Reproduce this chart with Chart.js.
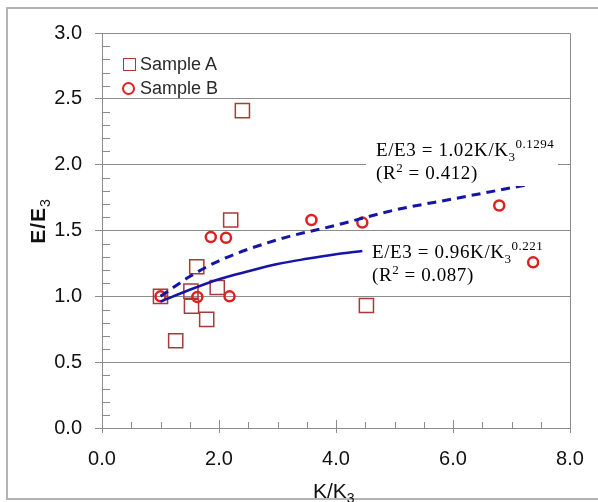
<!DOCTYPE html>
<html>
<head>
<meta charset="utf-8">
<script src="https://cdn.jsdelivr.net/npm/chart.js@4/dist/chart.umd.min.js"></script>
<style>
  html, body { margin: 0; padding: 0; background: #fff; }
  #wrap { position: relative; width: 598px; height: 502px; overflow: hidden; background: #fff; }
  #frame { position: absolute; left: 6px; top: 7px; width: 600px; height: 489px; border: 2px solid #b4b4b4; box-sizing: content-box; pointer-events: none; }
  canvas { position: absolute; left: 0; top: 0; }
  .txt { position: absolute; white-space: nowrap; }
  .eq { font-family: "Liberation Serif", "Times New Roman", serif; font-size: 19px; line-height: 19px; color: #000; letter-spacing: 0.6px; }
  .eq .sm { font-size: 13px; position: relative; letter-spacing: 0.5px; }
  .lg { font-family: "Liberation Sans", Arial, sans-serif; font-size: 18px; line-height: 18px; color: #2a2a2a; }
  .ttl { font-family: "Liberation Sans", Arial, sans-serif; font-size: 21px; line-height: 21px; color: #111; }
  .ttl .sb { font-size: 14px; position: relative; top: 5px; }
</style>
</head>
<body>
<div id="wrap">
  <canvas id="c" width="598" height="502"></canvas>
  <div id="frame"></div>
  <!-- legend -->
  <div style="position:absolute;left:123px;top:58px;width:13px;height:13px;border:1.5px solid #a83a3a;box-sizing:border-box;"></div>
  <div class="txt lg" style="left:140px;top:55px;">Sample A</div>
  <div style="position:absolute;left:121.5px;top:81.5px;width:13px;height:13px;border:2.5px solid #dd2020;border-radius:50%;box-sizing:border-box;"></div>
  <div class="txt lg" style="left:140px;top:79px;">Sample B</div>
  <!-- equation 1 -->
  <div style="position:absolute;left:366px;top:138px;width:192px;height:48px;background:#fff;"></div>
  <div class="txt eq" style="left:376px;top:140px;">E/E3 = 1.02K/K<span class="sm" style="top:5px;">3</span><span class="sm" style="top:-8px;">0.1294</span></div>
  <div class="txt eq" style="left:376px;top:163px;">(R<span class="sm" style="top:-7px;">2</span> = 0.412)</div>
  <!-- equation 2 -->
  <div class="txt eq" style="left:372px;top:242px;">E/E3 = 0.96K/K<span class="sm" style="top:5px;">3</span><span class="sm" style="top:-8px;">0.221</span></div>
  <div class="txt eq" style="left:372px;top:265px;">(R<span class="sm" style="top:-7px;">2</span> = 0.087)</div>
  <!-- axis titles -->
  <div class="txt ttl" style="left:313px;top:480px;">K/K<span class="sb">3</span></div>
  <div class="txt ttl" style="left:39px;top:221px;font-weight:bold;letter-spacing:1px;transform:translate(-50%,-50%) rotate(-90deg);">E/E<span class="sb" style="font-weight:normal;">3</span></div>
</div>
<script>
// ---- data ----
const sampleA_K = [1.00, 2.40, 2.20, 1.62, 1.52, 1.53, 1.79, 1.26, 1.97, 4.52];
const sampleA_E = [1.00, 2.41, 1.58, 1.225, 1.04, 0.925, 0.825, 0.663, 1.067, 0.93];
const sampleB_K = [1.00, 1.63, 2.18, 1.86, 2.12, 3.58, 4.45, 6.79, 7.37];
const sampleB_E = [1.00, 0.995, 1.00, 1.45, 1.445, 1.58, 1.56, 1.69, 1.258];
const fitB_K = [1.0, 1.5, 2.0, 3.0, 4.0, 5.0, 6.0, 7.3];
const fitB_E = [1.0, 1.15, 1.27, 1.43, 1.54, 1.655, 1.74, 1.85];
const fitA_K = [1.0, 1.5, 2.0, 2.5, 3.0, 3.5, 4.0, 4.45];
const fitA_E = [0.96, 1.05, 1.13, 1.19, 1.245, 1.285, 1.32, 1.345];
const xTicks = [0, 2, 4, 6, 8];
const yTicks = [0, 0.5, 1.0, 1.5, 2.0, 2.5, 3.0];

const pts = (xs, ys) => xs.map((x, i) => ({ x: x, y: ys[i] }));
const GRID = '#8c8c8c';
const BLUE = '#1414a6';

const minorTicks = {
  id: 'minorTicks',
  beforeDatasetsDraw(chart) {
    const { ctx, chartArea: a, scales: { x, y } } = chart;
    ctx.save();
    ctx.strokeStyle = GRID;
    ctx.lineWidth = 1;
    // plot border (top & right)
    ctx.beginPath();
    ctx.moveTo(a.left, a.top + 0.5);
    ctx.lineTo(a.right + 0.5, a.top + 0.5);
    ctx.lineTo(a.right + 0.5, a.bottom);
    ctx.stroke();
    // y minor ticks (inside)
    for (let i = 1; i < 30; i++) {
      if (i % 5 === 0) continue;
      const py = Math.round(y.getPixelForValue(i / 10)) + 0.5;
      ctx.beginPath(); ctx.moveTo(a.left, py); ctx.lineTo(a.left + 8, py); ctx.stroke();
    }
    // x minor ticks (inside) and inner part of major ticks
    for (let i = 1; i < 16; i++) {
      const px = Math.round(x.getPixelForValue(i / 2)) + 0.5;
      const len = (i % 4 === 0) ? 8 : 6;
      ctx.beginPath(); ctx.moveTo(px, a.bottom); ctx.lineTo(px, a.bottom - len); ctx.stroke();
    }
    ctx.restore();
  }
};

new Chart(document.getElementById('c'), {
  type: 'scatter',
  data: {
    datasets: [
      { label: 'fit B', data: pts(fitB_K, fitB_E), showLine: true, borderColor: BLUE, borderWidth: 3,
        borderDash: [9, 6], pointRadius: 0, cubicInterpolationMode: 'monotone', fill: false },
      { label: 'fit A', data: pts(fitA_K, fitA_E), showLine: true, borderColor: BLUE, borderWidth: 2.5,
        pointRadius: 0, cubicInterpolationMode: 'monotone', fill: false },
      { label: 'Sample B', data: pts(sampleB_K, sampleB_E), pointStyle: 'circle', pointRadius: 5,
        borderColor: '#dd2020', borderWidth: 2.5, backgroundColor: 'rgba(0,0,0,0)' },
      { label: 'Sample A', data: pts(sampleA_K, sampleA_E), pointStyle: 'rect', pointRadius: 10,
        borderColor: '#a83a3a', borderWidth: 1.5, backgroundColor: 'rgba(0,0,0,0)' }
    ]
  },
  options: {
    responsive: false,
    animation: false,
    devicePixelRatio: 1,
    layout: { padding: { left: 0, right: 28, top: 33, bottom: 0 } },
    plugins: { legend: { display: false }, tooltip: { enabled: false } },
    scales: {
      x: {
        type: 'linear', min: 0, max: 8,
        afterFit(s) { s.height = 74; },
        afterBuildTicks(s) { s.ticks = xTicks.map(v => ({ value: v })); },
        ticks: { callback: v => v.toFixed(1), color: '#111', padding: 14,
                 font: { family: '"Liberation Sans", Arial, sans-serif', size: 20 } },
        grid: { drawOnChartArea: false, drawTicks: true, tickLength: 5, color: GRID },
        border: { display: true, color: GRID, width: 1 }
      },
      y: {
        type: 'linear', min: 0, max: 3,
        afterFit(s) { s.width = 102; },
        afterBuildTicks(s) { s.ticks = yTicks.map(v => ({ value: v })); },
        ticks: { callback: v => v.toFixed(1), color: '#111', padding: 13,
                 font: { family: '"Liberation Sans", Arial, sans-serif', size: 20 } },
        grid: { drawOnChartArea: true, drawTicks: true, tickLength: 7, color: GRID, lineWidth: 1 },
        border: { display: true, color: GRID, width: 1 }
      }
    }
  },
  plugins: [minorTicks]
});
</script>
</body>
</html>
